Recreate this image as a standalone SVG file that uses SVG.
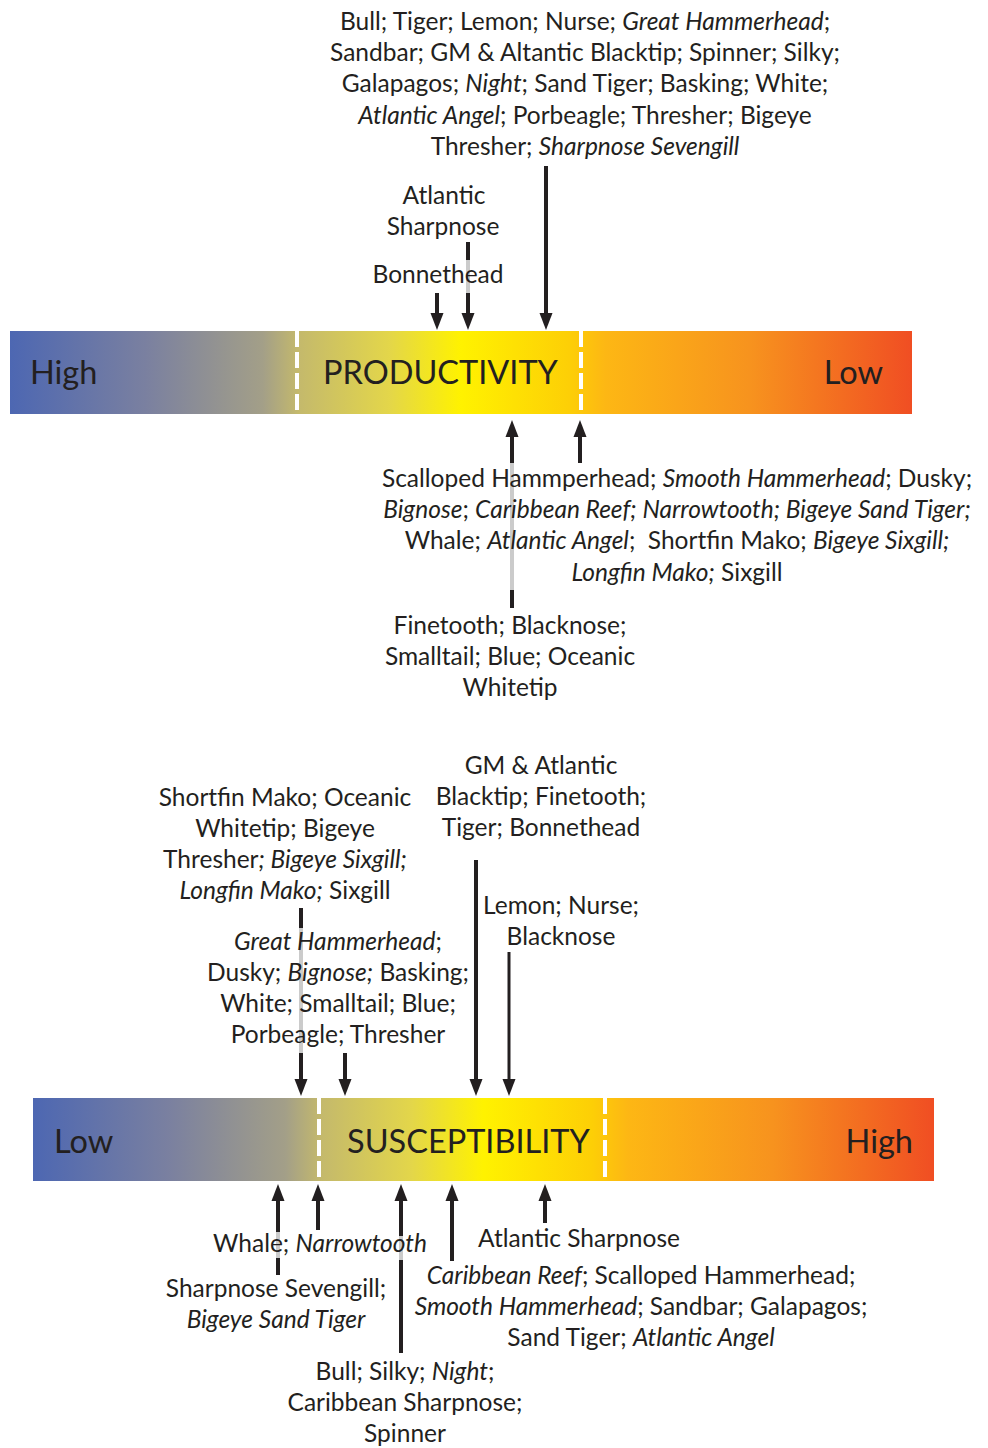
<svg xmlns="http://www.w3.org/2000/svg" width="988" height="1448" viewBox="0 0 988 1448">
<defs>
<linearGradient id="grad" x1="0" y1="0" x2="1" y2="0">
<stop offset="0" stop-color="#4d67b2"/>
<stop offset="0.15" stop-color="#7a80a0"/>
<stop offset="0.28" stop-color="#a39f88"/>
<stop offset="0.32" stop-color="#c4b96c"/>
<stop offset="0.42" stop-color="#e3d64a"/>
<stop offset="0.5" stop-color="#fff200"/>
<stop offset="0.62" stop-color="#fdcf06"/>
<stop offset="0.66" stop-color="#fdb714"/>
<stop offset="0.82" stop-color="#f7931e"/>
<stop offset="1" stop-color="#f04e23"/>
</linearGradient>
<marker id="ah" viewBox="0 -7 17 14" refX="0" refY="0" markerWidth="17" markerHeight="14" markerUnits="userSpaceOnUse" orient="auto">
<path d="M0,-6.5 L17,0 L0,6.5 z" fill="#231f20"/>
</marker>
</defs>
<style>
text{font-family:Lato,"Open Sans","Liberation Sans",sans-serif;fill:#231f20;font-size:24.5px;text-anchor:middle}
.i{font-style:italic}
.big{font-size:32.5px;text-anchor:start}
.end{text-anchor:end}
.bar{fill:url(#grad)}
.dash{stroke:#fff;stroke-width:4;stroke-dasharray:16 5;fill:none}
.arr{stroke:#231f20;stroke-width:4;fill:none;marker-end:url(#ah)}
.thin{stroke-width:3}
.grey{stroke:#cbcbcb;stroke-width:4;fill:none}
</style>

<g id="productivity-bar">
<rect class="bar" x="10" y="331" width="902" height="83"/>
<line class="dash" x1="297" y1="331" x2="297" y2="414"/>
<line class="dash" x1="581" y1="331" x2="581" y2="414"/>
<text class="big" x="30" y="384">High</text>
<text class="big" x="323" y="384">PRODUCTIVITY</text>
<text class="big end" x="883" y="384">Low</text>
</g>

<g id="susceptibility-bar">
<rect class="bar" x="33" y="1098" width="901" height="83"/>
<line class="dash" x1="319" y1="1098" x2="319" y2="1181"/>
<line class="dash" x1="605" y1="1098" x2="605" y2="1181"/>
<text class="big" x="54" y="1153">Low</text>
<text class="big" x="347" y="1153">SUSCEPTIBILITY</text>
<text class="big end" x="913" y="1153">High</text>
</g>

<g id="connectors">
<line class="arr" x1="546" y1="166" x2="546" y2="313"/>
<line class="arr" x1="468" y1="242" x2="468" y2="313"/>
<line class="grey" x1="468" y1="260" x2="468" y2="293"/>
<line class="arr" x1="437" y1="293" x2="437" y2="313"/>

<line class="arr" x1="512" y1="608" x2="512" y2="437"/>
<line class="grey" x1="512" y1="463" x2="512" y2="590"/>
<line class="arr" x1="580" y1="463" x2="580" y2="437"/>

<line class="arr" x1="476" y1="860" x2="476" y2="1079"/>
<line class="arr thin" x1="509" y1="952" x2="509" y2="1079"/>
<line class="arr" x1="301" y1="908" x2="301" y2="1079"/>
<line class="grey" x1="301" y1="928" x2="301" y2="1053"/>
<line class="arr" x1="345" y1="1053" x2="345" y2="1079"/>

<line class="arr" x1="278" y1="1275" x2="278" y2="1201"/>
<line class="grey" x1="278" y1="1232" x2="278" y2="1258"/>
<line class="arr" x1="318" y1="1230" x2="318" y2="1201"/>
<line class="arr" x1="401" y1="1353" x2="401" y2="1201"/>
<line class="grey" x1="401" y1="1236" x2="401" y2="1260"/>
<line class="arr" x1="452" y1="1261" x2="452" y2="1201"/>
<line class="arr" x1="545" y1="1223" x2="545" y2="1201"/>
</g>

<g id="prod-low-group">
<text x="585" y="30">Bull; Tiger; Lemon; Nurse; <tspan class="i">Great Hammerhead</tspan>;</text>
<text x="585" y="61">Sandbar; GM &amp; Altantic Blacktip; Spinner; Silky;</text>
<text x="585" y="92">Galapagos; <tspan class="i">Night</tspan>; Sand Tiger; Basking; White;</text>
<text x="585" y="124"><tspan class="i">Atlantic Angel</tspan>; Porbeagle; Thresher; Bigeye</text>
<text x="585" y="155">Thresher; <tspan class="i">Sharpnose Sevengill</tspan></text>
</g>

<g id="prod-atlantic-sharpnose">
<text x="444" y="204">Atlantic</text>
<text x="443" y="235">Sharpnose</text>
</g>

<g id="prod-bonnethead">
<text x="438" y="283">Bonnethead</text>
</g>

<g id="prod-mid-group">
<text x="677" y="487">Scalloped Hammperhead; <tspan class="i">Smooth Hammerhead</tspan>; Dusky;</text>
<text x="677" y="518"><tspan class="i">Bignose</tspan>; <tspan class="i">Caribbean Reef; Narrowtooth; Bigeye Sand Tiger;</tspan></text>
<text x="677" y="549" xml:space="preserve">Whale; <tspan class="i">Atlantic Angel</tspan>;  Shortfin Mako; <tspan class="i">Bigeye Sixgill;</tspan></text>
<text x="677" y="581"><tspan class="i">Longfin Mako;</tspan> Sixgill</text>
</g>

<g id="prod-finetooth">
<text x="510" y="634">Finetooth; Blacknose;</text>
<text x="510" y="665">Smalltail; Blue; Oceanic</text>
<text x="510" y="696">Whitetip</text>
</g>

<g id="sus-gm-blacktip">
<text x="541" y="774">GM &amp; Atlantic</text>
<text x="541" y="805">Blacktip; Finetooth;</text>
<text x="541" y="836">Tiger; Bonnethead</text>
</g>

<g id="sus-shortfin">
<text x="285" y="806">Shortfin Mako; Oceanic</text>
<text x="285" y="837">Whitetip; Bigeye</text>
<text x="285" y="868">Thresher<tspan class="i">; Bigeye Sixgill;</tspan></text>
<text x="285" y="899"><tspan class="i">Longfin Mako;</tspan> Sixgill</text>
</g>

<g id="sus-lemon">
<text x="561" y="914">Lemon; Nurse;</text>
<text x="561" y="945">Blacknose</text>
</g>

<g id="sus-great-hammerhead">
<text x="338" y="950"><tspan class="i">Great Hammerhead</tspan>;</text>
<text x="338" y="981">Dusky; <tspan class="i">Bignose;</tspan> Basking;</text>
<text x="338" y="1012">White; Smalltail; Blue;</text>
<text x="338" y="1043">Porbeagle; Thresher</text>
</g>

<g id="sus-whale">
<text x="320" y="1252">Whale; <tspan class="i">Narrowtooth</tspan></text>
</g>

<g id="sus-atlantic-sharpnose">
<text x="579" y="1247">Atlantic Sharpnose</text>
</g>

<g id="sus-sevengill">
<text x="276" y="1297">Sharpnose Sevengill;</text>
<text x="276" y="1328" class="i">Bigeye Sand Tiger</text>
</g>

<g id="sus-caribbean">
<text x="641" y="1284"><tspan class="i">Caribbean Reef</tspan>; Scalloped Hammerhead;</text>
<text x="641" y="1315"><tspan class="i">Smooth Hammerhead</tspan>; Sandbar; Galapagos;</text>
<text x="641" y="1346">Sand Tiger; <tspan class="i">Atlantic Angel</tspan></text>
</g>

<g id="sus-bull">
<text x="405" y="1380">Bull; Silky; <tspan class="i">Night</tspan>;</text>
<text x="405" y="1411">Caribbean Sharpnose;</text>
<text x="405" y="1442">Spinner</text>
</g>
</svg>
